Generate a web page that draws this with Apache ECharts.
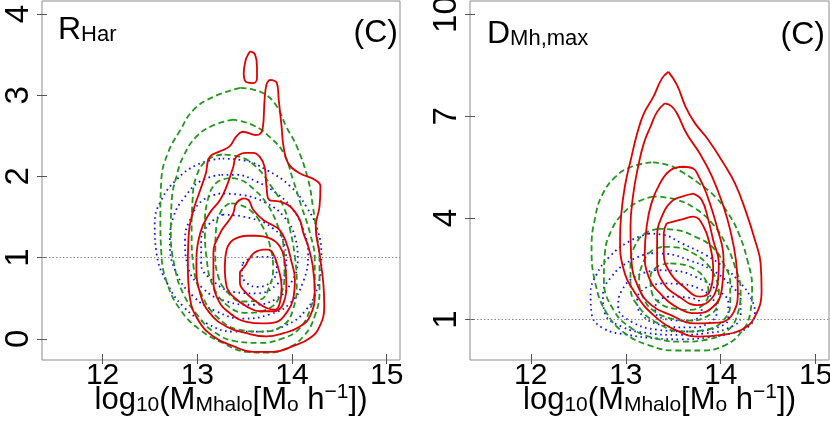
<!DOCTYPE html>
<html>
<head>
<meta charset="utf-8">
<script src="https://cdn.jsdelivr.net/npm/echarts@6/dist/echarts.min.js"></script>
<style>
  html, body { margin: 0; padding: 0; background: #fff; }
  #chart { width: 830px; height: 424px; }
</style>
</head>
<body>
<div id="chart"></div>
<script>
// ---------- tick labels ----------
const xTicks = [12, 13, 14, 15];
const yTicksHar = [0, 1, 2, 3, 4];
const yTicksMh = [1, 4, 7, 10];
const refLineValue = 1;

// ---------- panel 1: R_Har contours [log10 M, R_Har] ----------
const harRed1 = [[13.76,3.19],[13.84,3.15],[13.86,2.94],[13.89,2.61],[13.91,2.37],[13.96,2.16],[14.08,2.04],[14.24,1.96],[14.30,1.88],[14.29,1.63],[14.25,1.38],[14.29,1.05],[14.33,0.69],[14.34,0.40],[14.29,0.15],[14.19,0.01],[14.01,-0.09],[13.80,-0.16],[13.59,-0.16],[13.38,-0.09],[13.17,0.03],[13.01,0.23],[12.92,0.52],[12.90,0.89],[12.91,1.30],[12.96,1.59],[13.03,1.83],[13.09,2.04],[13.13,2.24],[13.24,2.31],[13.34,2.37],[13.41,2.49],[13.48,2.55],[13.62,2.51],[13.69,2.59],[13.71,2.94],[13.73,3.13]];
const harRed2 = [[13.50,2.29],[13.41,2.24],[13.38,2.12],[13.31,1.88],[13.24,1.71],[13.13,1.55],[13.03,1.30],[12.99,0.89],[13.03,0.56],[13.13,0.32],[13.31,0.15],[13.52,0.07],[13.73,0.03],[13.91,0.07],[14.08,0.15],[14.19,0.28],[14.24,0.56],[14.22,0.89],[14.17,1.14],[14.12,1.30],[14.08,1.47],[13.98,1.63],[13.87,1.69],[13.76,1.71],[13.73,1.88],[13.71,2.12],[13.66,2.24],[13.59,2.29]];
const harRed3 = [[13.48,1.73],[13.41,1.67],[13.38,1.55],[13.34,1.47],[13.24,1.30],[13.17,1.05],[13.17,0.73],[13.22,0.48],[13.34,0.32],[13.52,0.21],[13.69,0.19],[13.84,0.21],[13.94,0.32],[14.01,0.48],[14.03,0.73],[13.99,0.97],[13.94,1.18],[13.87,1.34],[13.76,1.42],[13.69,1.47],[13.59,1.59],[13.54,1.71]];
const harRed4 = [[13.52,1.27],[13.38,1.22],[13.31,1.10],[13.29,0.89],[13.31,0.64],[13.38,0.52],[13.52,0.40],[13.66,0.34],[13.80,0.34],[13.91,0.44],[13.94,0.69],[13.92,0.97],[13.87,1.14],[13.76,1.24],[13.62,1.27]];
const harRed5 = [[13.69,1.10],[13.59,1.05],[13.50,0.89],[13.45,0.81],[13.45,0.69],[13.52,0.56],[13.62,0.46],[13.73,0.38],[13.82,0.36],[13.87,0.44],[13.89,0.64],[13.85,0.89],[13.80,1.05],[13.75,1.10]];
const harRedIsland = [[13.56,3.54],[13.61,3.50],[13.63,3.35],[13.63,3.21],[13.59,3.15],[13.52,3.16],[13.49,3.27],[13.51,3.43],[13.54,3.51]];

const harGreen1 = [[13.45,3.09],[13.17,2.98],[12.96,2.82],[12.82,2.57],[12.69,2.29],[12.62,1.96],[12.61,1.51],[12.62,1.05],[12.68,0.69],[12.82,0.36],[13.03,0.11],[13.27,-0.05],[13.52,-0.16],[13.73,-0.17],[13.94,-0.12],[14.12,0.03],[14.24,0.28],[14.29,0.60],[14.29,0.97],[14.26,1.30],[14.22,1.63],[14.17,1.96],[14.05,2.37],[13.94,2.61],[13.84,2.86],[13.73,3.00],[13.59,3.07]];
const harGreen2 = [[13.38,2.70],[13.17,2.63],[12.99,2.49],[12.85,2.24],[12.78,2.00],[12.73,1.71],[12.72,1.30],[12.76,0.89],[12.85,0.56],[13.01,0.28],[13.17,0.09],[13.41,-0.03],[13.66,-0.05],[13.91,0.01],[14.08,0.13],[14.19,0.36],[14.24,0.64],[14.24,0.97],[14.19,1.30],[14.10,1.63],[14.01,1.96],[13.91,2.29],[13.76,2.49],[13.59,2.63]];
const harGreen3 = [[13.26,2.27],[13.10,2.20],[12.99,2.00],[12.95,1.71],[12.94,1.30],[12.96,0.89],[13.04,0.56],[13.20,0.28],[13.45,0.11],[13.69,0.09],[13.91,0.17],[14.01,0.36],[14.05,0.69],[14.03,1.01],[13.98,1.34],[13.91,1.63],[13.78,1.88],[13.62,2.12],[13.45,2.24]];
const harGreen4 = [[13.34,1.98],[13.20,1.92],[13.11,1.71],[13.08,1.38],[13.10,0.97],[13.17,0.64],[13.33,0.40],[13.52,0.32],[13.73,0.36],[13.87,0.52],[13.92,0.81],[13.91,1.14],[13.84,1.42],[13.73,1.67],[13.59,1.85],[13.45,1.96]];
const harGreen5 = [[13.34,1.67],[13.26,1.59],[13.20,1.38],[13.19,1.05],[13.22,0.77],[13.33,0.56],[13.48,0.46],[13.66,0.48],[13.76,0.64],[13.80,0.89],[13.76,1.18],[13.69,1.38],[13.59,1.55],[13.45,1.65]];

const harBlue1 = [[13.24,2.22],[12.99,2.14],[12.78,1.96],[12.62,1.71],[12.55,1.42],[12.57,1.05],[12.68,0.69],[12.85,0.40],[13.10,0.19],[13.38,0.09],[13.66,0.09],[13.94,0.17],[14.15,0.36],[14.27,0.64],[14.31,1.01],[14.27,1.34],[14.15,1.63],[13.98,1.88],[13.73,2.08],[13.48,2.20]];
const harBlue2 = [[13.24,2.02],[13.03,1.94],[12.87,1.75],[12.75,1.51],[12.71,1.18],[12.78,0.81],[12.96,0.52],[13.20,0.34],[13.48,0.25],[13.76,0.30],[13.98,0.44],[14.12,0.71],[14.17,1.05],[14.12,1.34],[14.01,1.59],[13.84,1.79],[13.62,1.94],[13.41,2.02]];
const harBlue3 = [[13.24,1.79],[13.06,1.71],[12.94,1.51],[12.87,1.22],[12.90,0.89],[13.06,0.62],[13.31,0.46],[13.59,0.42],[13.84,0.50],[13.99,0.69],[14.06,0.97],[14.03,1.26],[13.91,1.51],[13.73,1.67],[13.48,1.77]];
const harBlue4 = [[13.27,1.53],[13.13,1.42],[13.04,1.22],[13.04,0.93],[13.17,0.71],[13.38,0.58],[13.62,0.56],[13.84,0.67],[13.94,0.89],[13.92,1.16],[13.80,1.36],[13.55,1.49]];
const harBlue5 = [[13.48,0.93],[13.61,1.01],[13.76,1.01],[13.84,0.89],[13.80,0.73],[13.64,0.64],[13.52,0.69],[13.47,0.81]];

// ---------- panel 2: D_Mh,max contours [log10 M, D] ----------
const mhRed1 = [[13.45,8.31],[13.38,8.11],[13.29,7.57],[13.19,7.08],[13.12,6.49],[13.06,5.80],[12.99,4.92],[12.95,4.04],[12.94,3.35],[12.97,2.56],[13.10,1.78],[13.31,1.09],[13.56,0.65],[13.77,0.50],[14.01,0.55],[14.22,0.70],[14.36,1.09],[14.43,1.87],[14.42,2.66],[14.36,3.35],[14.26,4.23],[14.15,5.02],[14.03,5.61],[13.87,6.30],[13.73,6.79],[13.63,7.28],[13.54,7.92]];
const mhRed2 = [[13.41,7.38],[13.33,7.13],[13.26,6.69],[13.19,6.20],[13.13,5.51],[13.08,4.72],[13.05,3.74],[13.06,2.76],[13.13,1.97],[13.27,1.43],[13.47,1.14],[13.73,0.89],[13.98,0.91],[14.14,1.24],[14.18,1.87],[14.16,2.76],[14.10,3.64],[14.03,4.33],[13.91,5.21],[13.78,5.90],[13.64,6.49],[13.54,7.08],[13.48,7.30]];
const mhRed3 = [[13.61,5.51],[13.47,5.41],[13.36,5.02],[13.27,4.43],[13.22,3.74],[13.20,2.96],[13.24,2.27],[13.36,1.78],[13.56,1.33],[13.75,1.19],[13.92,1.38],[14.01,1.87],[14.03,2.76],[13.96,3.74],[13.85,4.72],[13.77,5.21],[13.71,5.46]];
const mhRed4 = [[13.71,4.72],[13.59,4.63],[13.48,4.48],[13.38,4.04],[13.33,3.45],[13.33,2.66],[13.40,2.07],[13.56,1.68],[13.75,1.43],[13.87,1.53],[13.96,1.97],[13.98,2.66],[13.92,3.35],[13.87,3.94],[13.80,4.53]];
const mhRed5 = [[13.43,3.84],[13.57,3.94],[13.71,4.04],[13.82,3.74],[13.89,3.15],[13.92,2.56],[13.89,1.87],[13.78,1.68],[13.61,1.97],[13.47,2.37],[13.40,2.96],[13.40,3.54]];

const mhGreen1 = [[13.27,5.64],[13.06,5.51],[12.89,5.21],[12.75,4.67],[12.68,4.04],[12.64,3.15],[12.68,2.07],[12.80,1.19],[12.99,0.60],[13.24,0.25],[13.52,0.09],[13.80,0.09],[14.05,0.25],[14.22,0.65],[14.31,1.19],[14.33,1.97],[14.28,2.76],[14.19,3.54],[14.08,4.13],[13.94,4.63],[13.77,5.02],[13.59,5.36],[13.45,5.56]];
const mhGreen2 = [[13.29,4.63],[13.13,4.48],[12.97,4.13],[12.85,3.64],[12.78,2.96],[12.77,2.17],[12.87,1.29],[13.06,0.75],[13.31,0.45],[13.59,0.35],[13.87,0.42],[14.08,0.70],[14.18,1.19],[14.21,1.87],[14.15,2.56],[14.05,3.25],[13.91,3.84],[13.73,4.28],[13.52,4.55]];
const mhGreen3 = [[13.34,3.68],[13.20,3.54],[13.10,3.20],[13.05,2.66],[13.05,1.97],[13.15,1.33],[13.34,0.89],[13.59,0.65],[13.84,0.70],[14.03,0.99],[14.10,1.48],[14.10,2.07],[14.03,2.66],[13.91,3.15],[13.73,3.45],[13.54,3.64]];
const mhGreen4 = [[13.38,3.15],[13.26,3.00],[13.18,2.66],[13.14,2.17],[13.18,1.68],[13.28,1.29],[13.47,1.04],[13.68,0.97],[13.85,1.09],[13.96,1.38],[13.98,1.83],[13.94,2.27],[13.85,2.66],[13.71,2.96],[13.54,3.13]];
const mhGreen5 = [[13.45,2.66],[13.32,2.54],[13.26,2.25],[13.27,1.86],[13.34,1.53],[13.50,1.33],[13.68,1.29],[13.81,1.43],[13.87,1.78],[13.84,2.17],[13.73,2.48],[13.59,2.63]];

const mhBlue1 = [[13.24,3.54],[13.03,3.30],[12.83,2.86],[12.69,2.32],[12.63,1.78],[12.64,1.19],[12.76,0.75],[13.03,0.55],[13.31,0.45],[13.59,0.42],[13.87,0.48],[14.12,0.60],[14.29,0.79],[14.36,1.19],[14.31,1.68],[14.21,2.07],[14.05,2.51],[13.84,2.91],[13.59,3.25],[13.40,3.50]];
const mhBlue2 = [[13.24,2.96],[13.03,2.71],[12.85,2.27],[12.76,1.73],[12.78,1.19],[12.96,0.79],[13.24,0.60],[13.56,0.55],[13.84,0.60],[14.08,0.75],[14.21,1.09],[14.21,1.58],[14.10,2.02],[13.91,2.46],[13.66,2.76],[13.43,2.94]];
const mhBlue3 = [[13.31,2.46],[13.10,2.27],[12.96,1.87],[12.92,1.38],[13.06,0.94],[13.34,0.70],[13.66,0.65],[13.94,0.75],[14.08,1.04],[14.08,1.48],[13.94,1.92],[13.73,2.27],[13.52,2.44]];
const mhBlue4 = [[13.38,2.07],[13.20,1.92],[13.12,1.58],[13.17,1.14],[13.38,0.84],[13.66,0.77],[13.87,0.89],[13.96,1.24],[13.91,1.63],[13.77,1.92],[13.57,2.05]];
const mhBlue5 = [[13.45,1.68],[13.33,1.53],[13.31,1.24],[13.43,1.01],[13.64,0.97],[13.79,1.14],[13.80,1.43],[13.66,1.65]];

// ---------- styling ----------
const FONT = 'Liberation Sans, Arial, Helvetica, sans-serif';
const RED = '#e00000';
const GREEN = '#22961f';
const BLUE = '#1010ff';
const BOX = '#8c8c8c';
const TICK = '#555555';

function closeLoop(arr) { return arr.concat([arr[0]]); }

function contour(data, kind, axisIdx) {
  let lineStyle;
  if (kind === 'red') lineStyle = { color: RED, width: 1.8, type: 'solid' };
  else if (kind === 'green') lineStyle = { color: GREEN, width: 1.8, type: [6, 3.5] };
  else lineStyle = { color: BLUE, width: 1.8, type: [1.6, 3.6] };
  return {
    type: 'line', xAxisIndex: axisIdx, yAxisIndex: axisIdx,
    data: closeLoop(data), smooth: 0.45, symbol: 'none', silent: true,
    lineStyle: lineStyle, animation: false, z: kind === 'red' ? 4 : (kind === 'green' ? 3 : 2)
  };
}

function refLine(axisIdx) {
  return {
    type: 'line', xAxisIndex: axisIdx, yAxisIndex: axisIdx, data: [], silent: true,
    markLine: {
      silent: true, symbol: 'none', animation: false, label: { show: false },
      lineStyle: { color: '#888', width: 1.2, type: [1.5, 2] },
      data: [{ yAxis: refLineValue }]
    }
  };
}

const xName = '{n|log}{s|10}{n|(M}{s|Mhalo}{n|[M}{s|o}{n| h}{p|\u22121}{n|])}';
const xNameRich = {
  n: { fontSize: 31, lineHeight: 34, verticalAlign: 'bottom', fontFamily: FONT, color: '#000' },
  s: { fontSize: 21, lineHeight: 16, verticalAlign: 'bottom', fontFamily: FONT, color: '#000' },
  p: { fontSize: 21, lineHeight: 21, verticalAlign: 'top', fontFamily: FONT, color: '#000' }
};

function mainXAxis(grid) {
  return {
    type: 'value', gridIndex: grid, min: 11.36, max: 15.14, position: 'bottom',
    axisLine: { show: false, onZero: false },
    splitLine: { show: false },
    axisTick: { show: true, inside: true, length: 6, customValues: xTicks, lineStyle: { color: TICK, width: 1 } },
    axisLabel: { customValues: xTicks, fontSize: 30, fontFamily: FONT, color: '#000', margin: 1 },
    name: xName, nameLocation: 'middle', nameGap: 22, nameMoveOverlap: false,
    nameTextStyle: { rich: xNameRich, padding: [0, 0, 0, 20] }
  };
}
function outerXAxis(grid) {
  return {
    type: 'value', gridIndex: grid, min: 11.36, max: 15.14, position: 'bottom',
    axisLine: { show: false, onZero: false }, splitLine: { show: false },
    axisTick: { show: true, inside: false, length: 4, customValues: xTicks, lineStyle: { color: TICK, width: 1 } },
    axisLabel: { show: false }
  };
}
function mainYAxis(grid, min, max, ticks) {
  return {
    type: 'value', gridIndex: grid, min: min, max: max, position: 'left',
    axisLine: { show: false, onZero: false }, splitLine: { show: false },
    axisTick: { show: true, inside: true, length: 5, customValues: ticks, lineStyle: { color: TICK, width: 1 } },
    axisLabel: { customValues: ticks, rotate: 90, fontSize: 33, fontFamily: FONT, color: '#000', margin: 7 }
  };
}
function outerYAxis(grid, min, max, ticks) {
  return {
    type: 'value', gridIndex: grid, min: min, max: max, position: 'left',
    axisLine: { show: false, onZero: false }, splitLine: { show: false },
    axisTick: { show: true, inside: false, length: 5, customValues: ticks, lineStyle: { color: TICK, width: 1 } },
    axisLabel: { show: false }
  };
}

const series = [
  refLine(0),
  contour(harBlue1, 'blue', 0), contour(harBlue2, 'blue', 0), contour(harBlue3, 'blue', 0),
  contour(harBlue4, 'blue', 0), contour(harBlue5, 'blue', 0),
  contour(harGreen1, 'green', 0), contour(harGreen2, 'green', 0), contour(harGreen3, 'green', 0),
  contour(harGreen4, 'green', 0), contour(harGreen5, 'green', 0),
  contour(harRed1, 'red', 0), contour(harRed2, 'red', 0), contour(harRed3, 'red', 0),
  contour(harRed4, 'red', 0), contour(harRed5, 'red', 0), contour(harRedIsland, 'red', 0),
  refLine(2),
  contour(mhBlue1, 'blue', 2), contour(mhBlue2, 'blue', 2), contour(mhBlue3, 'blue', 2),
  contour(mhBlue4, 'blue', 2), contour(mhBlue5, 'blue', 2),
  contour(mhGreen1, 'green', 2), contour(mhGreen2, 'green', 2), contour(mhGreen3, 'green', 2),
  contour(mhGreen4, 'green', 2), contour(mhGreen5, 'green', 2),
  contour(mhRed1, 'red', 2), contour(mhRed2, 'red', 2), contour(mhRed3, 'red', 2),
  contour(mhRed4, 'red', 2), contour(mhRed5, 'red', 2)
];

const titleRich = {
  a: { fontSize: 32, lineHeight: 34, verticalAlign: 'bottom', fontFamily: FONT, fill: '#000' },
  b: { fontSize: 22, lineHeight: 16, verticalAlign: 'bottom', fontFamily: FONT, fill: '#000' }
};

const chart = echarts.init(document.getElementById('chart'), null, { renderer: 'canvas' });
chart.setOption({
  backgroundColor: '#ffffff',
  animation: false,
  grid: [
    { left: 42, top: 1, width: 358, height: 359, show: true, borderColor: BOX, borderWidth: 1, backgroundColor: 'transparent', containLabel: false, outerBoundsMode: 'none' },
    { left: 470, top: 1, width: 359, height: 359, show: true, borderColor: BOX, borderWidth: 1, backgroundColor: 'transparent', containLabel: false, outerBoundsMode: 'none' }
  ],
  xAxis: [mainXAxis(0), outerXAxis(0), mainXAxis(1), outerXAxis(1)],
  yAxis: [
    mainYAxis(0, -0.26, 4.16, yTicksHar), outerYAxis(0, -0.26, 4.16, yTicksHar),
    mainYAxis(1, -0.19, 10.40, yTicksMh), outerYAxis(1, -0.19, 10.40, yTicksMh)
  ],
  series: series,
  graphic: [
    { type: 'text', x: 58, y: 12, z: 100, style: { text: '{a|R}{b|Har}', rich: titleRich, align: 'left', verticalAlign: 'top' } },
    { type: 'text', x: 398, y: 15, z: 100, style: { text: '{a|(C)}', rich: titleRich, align: 'right', verticalAlign: 'top' } },
    { type: 'text', x: 487, y: 16, z: 100, style: { text: '{a|D}{b|Mh,max}', rich: titleRich, align: 'left', verticalAlign: 'top' } },
    { type: 'text', x: 825, y: 17, z: 100, style: { text: '{a|(C)}', rich: titleRich, align: 'right', verticalAlign: 'top' } }
  ]
});
</script>
</body>
</html>
